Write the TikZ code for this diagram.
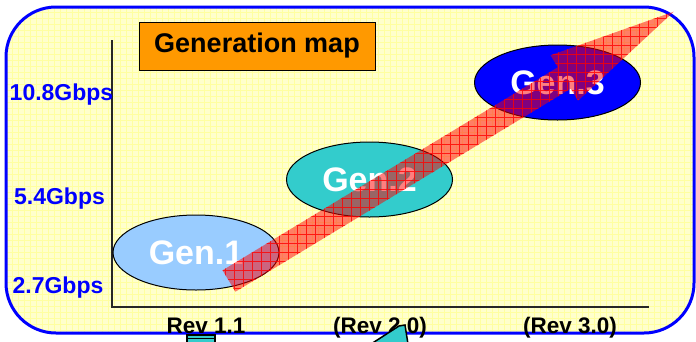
\documentclass[tikz,border=0pt]{standalone}
\usepackage{fontspec}
\setmainfont{Liberation Sans}
\usetikzlibrary{shapes.geometric}
\definecolor{bgyellow}{RGB}{255,255,204}
\definecolor{gridyellow}{RGB}{255,255,160}
\definecolor{mapblue}{RGB}{0,0,255}
\definecolor{mapteal}{RGB}{51,204,204}
\definecolor{maplight}{RGB}{153,204,255}
\definecolor{maporange}{RGB}{255,153,0}
\begin{document}
\begin{tikzpicture}[x=1pt,y=-1pt,
  gen/.style={ellipse, draw=black, line width=1pt, minimum width=166pt, minimum height=75pt, inner sep=0pt, text=white, font=\fontsize{34}{38}\selectfont\bfseries},
  rate/.style={text=mapblue, anchor=base, font=\fontsize{23}{27}\selectfont\bfseries},
  rev/.style={anchor=base, font=\fontsize{22.5}{27}\selectfont\bfseries}]
\useasboundingbox (0,0) rectangle (696,341);
\fill[bgyellow, rounded corners=50pt] (6,7) rectangle (694,333);
\begin{scope}
\clip[rounded corners=50pt] (6,7) rectangle (694,333);
\draw[gridyellow, line width=0.5pt, step=6pt] (0,0) grid (696,341);
\end{scope}
\draw[mapblue, line width=3pt, rounded corners=50pt] (6,7) rectangle (694,333);
\coordinate (ytop) at (112,40);
\coordinate (orig) at (112,307);
\coordinate (xend) at (649,307);
\draw[line width=1.5pt, black!85] (ytop) -- (orig) -- (xend);
\node[gen, fill=maplight] (gen1) at (196,252.5) {Gen.1};
\node[gen, fill=mapteal] (gen2) at (369.5,179.5) {Gen.2};
\node[gen, fill=mapblue] (gen3) at (557.5,82.5) {Gen.3};
\node[draw=black, line width=1pt, fill=maporange, minimum width=236pt, minimum height=48pt, font=\fontsize{27}{31}\selectfont\bfseries] (title) at (257,46) {Generation map};
\node[rate] (r108) at (61.5,100) {10.8Gbps};
\node[rate] (r54) at (59.5,204) {5.4Gbps};
\node[rate] (r27) at (58,293) {2.7Gbps};
\node[rev] (rev1) at (206,333) {Rev 1.1};
\node[rev] (rev2) at (380,333) {(Rev 2.0)};
\node[rev] (rev3) at (570,333) {(Rev 3.0)};
% growth arrow
\begin{scope}[shift={(229,281)}, rotate=31.2]
\coordinate (a1) at (0,-12.5);
\coordinate (a2) at (392,-12.5);
\coordinate (a3) at (392,-26.5);
\coordinate (a4) at (520,0);
\coordinate (a5) at (392,26.5);
\coordinate (a6) at (392,12.5);
\coordinate (a7) at (0,12.5);
\end{scope}
\fill[red, opacity=0.5] (a1) -- (a2) -- (a3) -- (a4) -- (a5) -- (a6) -- (a7) -- cycle;
\begin{scope}
\clip (a1) -- (a2) -- (a3) -- (a4) -- (a5) -- (a6) -- (a7) -- cycle;
\draw[red, opacity=0.8, line width=0.6pt, step=9pt] (200,0) grid (696,300);
\end{scope}
% cut shapes below the frame
\filldraw[fill=mapteal, draw=black, line width=1.5pt] (187,335) rectangle (215,346);
\draw[line width=1.5pt] (187,338.5) -- (215,338.5);
\filldraw[fill=mapteal, draw=black, line width=1.5pt] (371,344) -- (399,326) -- (405,325) -- (408,344) -- cycle;
\end{tikzpicture}
\end{document}
